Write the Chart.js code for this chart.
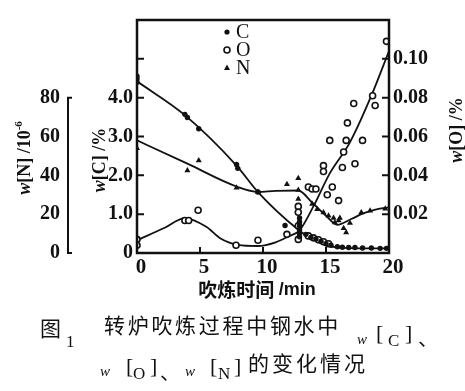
<!DOCTYPE html>
<html>
<head>
<meta charset="utf-8">
<script src="https://cdn.jsdelivr.net/npm/chart.js@4.4.1/dist/chart.umd.min.js"></script>
<style>
html, body { margin: 0; padding: 0; background: #fff; }
#wrap { position: relative; width: 465px; height: 391px; overflow: hidden; }
#c { position: absolute; left: 0; top: 0; }
.t { position: absolute; white-space: nowrap; line-height: 1; color: #111; }
.cjk { font-family: "Noto Sans CJK SC", sans-serif; }
.ser { font-family: "Liberation Serif", serif; }
</style>
</head>
<body>
<div id="wrap">
<canvas id="c" width="465" height="391"></canvas>
<!-- caption, line 1 -->
<span class="t cjk" style="left:40px;top:317px;font-size:21px">图</span>
<span class="t ser" style="left:66px;top:333px;font-size:17px">1</span>
<span class="t cjk" style="left:104px;top:314px;font-size:21px;letter-spacing:2.7px">转炉吹炼过程中钢水中</span>
<span class="t ser" style="left:357px;top:332px;font-size:15px;font-style:italic">w</span>
<span class="t ser" style="left:376px;top:322px;font-size:22px">[</span>
<span class="t ser" style="left:388px;top:332px;font-size:17px">C</span>
<span class="t ser" style="left:405px;top:322px;font-size:22px">]</span>
<span class="t cjk" style="left:418px;top:328px;font-size:20px">、</span>
<!-- caption, line 2 -->
<span class="t ser" style="left:100px;top:364px;font-size:15px;font-style:italic">w</span>
<span class="t ser" style="left:126px;top:355px;font-size:22px">[</span>
<span class="t ser" style="left:133px;top:365px;font-size:17px">O</span>
<span class="t ser" style="left:150px;top:355px;font-size:22px">]</span>
<span class="t cjk" style="left:160px;top:362px;font-size:20px">、</span>
<span class="t ser" style="left:185px;top:364px;font-size:15px;font-style:italic">w</span>
<span class="t ser" style="left:210px;top:355px;font-size:22px">[</span>
<span class="t ser" style="left:218px;top:365px;font-size:17px">N</span>
<span class="t ser" style="left:234px;top:355px;font-size:22px">]</span>
<span class="t cjk" style="left:248px;top:352px;font-size:21px;letter-spacing:3px">的变化情况</span>
</div>
<script>
// ---------------- data ----------------
// blowing time, min
var xLabels = [0, 5, 10, 15, 20];
var cLabels = [0, 1, 2, 3, 4];
var cTickMarks = [1, 2, 3, 4, 5];
var oLabels = [0.02, 0.04, 0.06, 0.08, 0.10];
var nLabels = [0, 20, 40, 60, 80];

// w[C] %, measured points
var cTime  = [0, 0, 0, 3.8, 4.0, 4.9, 7.9, 8.0, 9.6, 11.75, 12.9, 12.9, 12.9, 12.9, 12.9, 12.9, 13.4, 13.8, 14.2, 14.6, 15.0, 15.4, 15.9, 16.3, 16.8, 17.3, 17.9, 18.6, 19.3, 19.8];
var cValue = [4.55, 4.48, 4.4, 3.57, 3.49, 3.2, 2.28, 2.18, 1.57, 0.71, 0.9, 0.8, 0.7, 0.6, 0.5, 0.42, 0.48, 0.4, 0.36, 0.3, 0.24, 0.2, 0.16, 0.15, 0.14, 0.14, 0.13, 0.13, 0.12, 0.12];
// w[O] %, measured points
var oTime  = [0, 0, 3.8, 4.1, 4.85, 7.86, 9.6, 11.9, 12.8, 12.8, 12.8, 12.8, 13.6, 13.9, 14.2, 14.8, 14.8, 15.1, 15.3, 15.5, 16.0, 16.3, 16.4, 16.6, 16.7, 17.2, 17.3, 17.9, 18.7, 18.9, 19.8, 13.6, 14.0, 14.4, 14.8, 15.2];
var oValue = [0.007, 0.004, 0.0167, 0.0167, 0.022, 0.004, 0.0066, 0.0096, 0.024, 0.021, 0.014, 0.007, 0.034, 0.033, 0.033, 0.045, 0.042, 0.030, 0.058, 0.034, 0.027, 0.044, 0.052, 0.058, 0.067, 0.077, 0.046, 0.058, 0.081, 0.076, 0.109, 0.0088, 0.0078, 0.0068, 0.0058, 0.0048];
// w[N] 10^-6, measured points
var nTime  = [0, 4.0, 4.9, 7.9, 9.6, 11.9, 12.8, 12.8, 12.8, 13.9, 14.3, 14.8, 15.2, 15.6, 15.7, 16.0, 16.1, 16.4, 16.6, 16.9, 17.8, 18.5, 19.7];
var nValue = [54, 42.5, 47.6, 33.6, 31.4, 35.4, 38.5, 32.4, 27.8, 25.3, 22.5, 20.8, 19.2, 18, 15.7, 16.7, 18, 12.7, 10.6, 15.5, 20.8, 21.8, 22.8];

// fitted curves drawn in the figure
var cCurveTime  = [0, 3.8, 7.9, 9.6, 12.8, 13.8, 15, 16, 18, 20];
var cCurveValue = [4.42, 3.55, 2.25, 1.57, 0.6, 0.38, 0.2, 0.14, 0.12, 0.12];
var oCurveTime  = [0, 2.2, 3.8, 5.5, 6.6, 8, 9.6, 11, 12, 12.9, 14, 15.3, 16.9, 18.6, 20];
var oCurveValue = [0.0066, 0.013, 0.018, 0.0135, 0.0076, 0.0042, 0.0036, 0.0055, 0.0085, 0.0117, 0.024, 0.041, 0.057, 0.081, 0.104];
var nCurveTime  = [0, 4, 8, 9.6, 11, 12.8, 13.9, 15, 15.9, 17, 18, 19, 20];
var nCurveValue = [58, 46, 34, 31.5, 32, 32.2, 26, 19.2, 14.5, 17.5, 20.5, 22.5, 23.5];

// ---------------- helpers ----------------
function zip(xs, ys) {
    return xs.map(function (x, i) { return { x: x, y: ys[i] }; });
}
var ink = '#111';
var numFont = { family: 'Liberation Serif', weight: 'bold', size: 20 };

function drawRich(ctx, parts, cx, cy, rot) {
    ctx.save();
    ctx.translate(cx, cy);
    ctx.rotate(rot);
    var w = 0;
    parts.forEach(function (p) { ctx.font = p.f; p.w = ctx.measureText(p.t).width; w += p.w; });
    var x = -w / 2;
    ctx.textBaseline = 'middle';
    ctx.textAlign = 'left';
    parts.forEach(function (p) { ctx.font = p.f; ctx.fillText(p.t, x, p.dy || 0); x += p.w; });
    ctx.restore();
}

// frame, inward ticks, N bracket, axis titles, legend
var decor = {
    id: 'decor',
    afterDraw: function (chart) {
        var ctx = chart.ctx, a = chart.chartArea;
        var sx = chart.scales.x, sc = chart.scales.yC, so = chart.scales.yO, sn = chart.scales.yN;
        ctx.save();
        ctx.strokeStyle = ink;
        ctx.fillStyle = ink;
        ctx.lineWidth = 2.5;
        ctx.strokeRect(a.left, a.top, a.right - a.left, a.bottom - a.top);
        ctx.lineWidth = 2;
        ctx.beginPath();
        xLabels.slice(1, -1).forEach(function (v) {
            var px = sx.getPixelForValue(v);
            ctx.moveTo(px, a.bottom); ctx.lineTo(px, a.bottom - 6);
        });
        cTickMarks.forEach(function (v) {
            var py = sc.getPixelForValue(v);
            ctx.moveTo(a.left, py); ctx.lineTo(a.left + 7, py);
        });
        oLabels.forEach(function (v) {
            var py = so.getPixelForValue(v);
            ctx.moveTo(a.right, py); ctx.lineTo(a.right - 7, py);
        });
        // N axis drawn as a bracket from 0 to 80
        var nx = sn.right, n0 = sn.getPixelForValue(0), n80 = sn.getPixelForValue(80);
        ctx.moveTo(nx + 4, n80); ctx.lineTo(nx, n80); ctx.lineTo(nx, n0); ctx.lineTo(nx + 4, n0);
        ctx.stroke();

        // axis titles
        var it = 'italic bold 18px "Liberation Serif"', bd = 'bold 18px "Liberation Serif"';
        drawRich(ctx, [{ t: 'w', f: it }, { t: '[N] /10', f: bd }, { t: '-6', f: 'bold 11px "Liberation Serif"', dy: -6 }], 25, 158, -Math.PI / 2);
        drawRich(ctx, [{ t: 'w', f: it }, { t: '[C] /%', f: bd }], 100, 160, -Math.PI / 2);
        drawRich(ctx, [{ t: 'w', f: it }, { t: '[O] /%', f: bd }], 457, 130, -Math.PI / 2);
        drawRich(ctx, [{ t: '吹炼时间 ', f: 'bold 19px "Noto Sans CJK SC"' }, { t: '/min', f: 'bold 18px "Liberation Sans"' }], 257, 290, 0);

        // legend
        var lx = 227, ly = [32, 50, 68];
        ctx.beginPath(); ctx.arc(lx, ly[0], 2.6, 0, Math.PI * 2); ctx.fill();
        ctx.lineWidth = 1.6;
        ctx.beginPath(); ctx.arc(lx, ly[1], 3, 0, Math.PI * 2); ctx.stroke();
        ctx.beginPath(); ctx.moveTo(lx, ly[2] - 3.5); ctx.lineTo(lx + 3, ly[2] + 2); ctx.lineTo(lx - 3, ly[2] + 2); ctx.closePath(); ctx.fill();
        ctx.font = '20px "Liberation Serif"';
        ctx.textBaseline = 'middle';
        ctx.textAlign = 'left';
        ['C', 'O', 'N'].forEach(function (s, i) { ctx.fillText(s, lx + 9, ly[i] + 1); });
        ctx.restore();
    }
};

function fixTicks(list) {
    return function (s) { s.ticks = list.map(function (v) { return { value: v }; }); };
}

var fitLine = { showLine: true, pointRadius: 0, borderColor: ink, borderWidth: 1.8, cubicInterpolationMode: 'monotone', fill: false };
var noGrid = { display: false, drawTicks: false };

new Chart(document.getElementById('c'), {
    type: 'scatter',
    data: {
        datasets: [
            { label: 'C', data: zip(cTime, cValue), yAxisID: 'yC', pointStyle: 'circle', pointRadius: 2.7, backgroundColor: ink, borderColor: ink, borderWidth: 0 },
            { label: 'O', data: zip(oTime, oValue), yAxisID: 'yO', pointStyle: 'circle', pointRadius: 3, backgroundColor: '#fff', borderColor: ink, borderWidth: 1.6 },
            { label: 'N', data: zip(nTime, nValue), yAxisID: 'yN', pointStyle: 'triangle', pointRadius: 3.5, backgroundColor: ink, borderColor: ink, borderWidth: 0 },
            Object.assign({ label: 'C fit', data: zip(cCurveTime, cCurveValue), yAxisID: 'yC' }, fitLine),
            Object.assign({ label: 'O fit', data: zip(oCurveTime, oCurveValue), yAxisID: 'yO' }, fitLine),
            Object.assign({ label: 'N fit', data: zip(nCurveTime, nCurveValue), yAxisID: 'yN' }, fitLine)
        ]
    },
    options: {
        responsive: false,
        animation: false,
        devicePixelRatio: 1,
        layout: { padding: { top: 16, left: 0, right: 0, bottom: 0 } },
        plugins: { legend: { display: false }, tooltip: { enabled: false } },
        scales: {
            x: {
                type: 'linear', position: 'bottom', min: 0, max: 20,
                afterBuildTicks: fixTicks(xLabels),
                afterFit: function (s) { s.height = 138; },
                grid: noGrid, border: { display: false },
                ticks: { font: { family: 'Liberation Serif', weight: 'bold', size: 21 }, color: ink, padding: 2, labelOffset: 4, maxRotation: 0 }
            },
            yN: {
                type: 'linear', position: 'left', weight: 2, min: 0, max: 120,
                afterBuildTicks: fixTicks(nLabels),
                afterFit: function (s) { s.width = 68; },
                grid: noGrid, border: { display: false },
                ticks: { font: numFont, color: ink, padding: 8 }
            },
            yC: {
                type: 'linear', position: 'left', weight: 1, min: 0, max: 6,
                afterBuildTicks: fixTicks(cLabels),
                afterFit: function (s) { s.width = 69; },
                grid: noGrid, border: { display: false },
                ticks: { font: numFont, color: ink, padding: 4, callback: function (v) { return v === 0 ? '0' : v.toFixed(1); } }
            },
            yO: {
                type: 'linear', position: 'right', min: 0, max: 0.12,
                afterBuildTicks: fixTicks(oLabels),
                afterFit: function (s) { s.width = 76; },
                grid: noGrid, border: { display: false },
                ticks: { font: numFont, color: ink, padding: 4, callback: function (v) { return v.toFixed(2); } }
            }
        }
    },
    plugins: [decor]
});
</script>
</body>
</html>
